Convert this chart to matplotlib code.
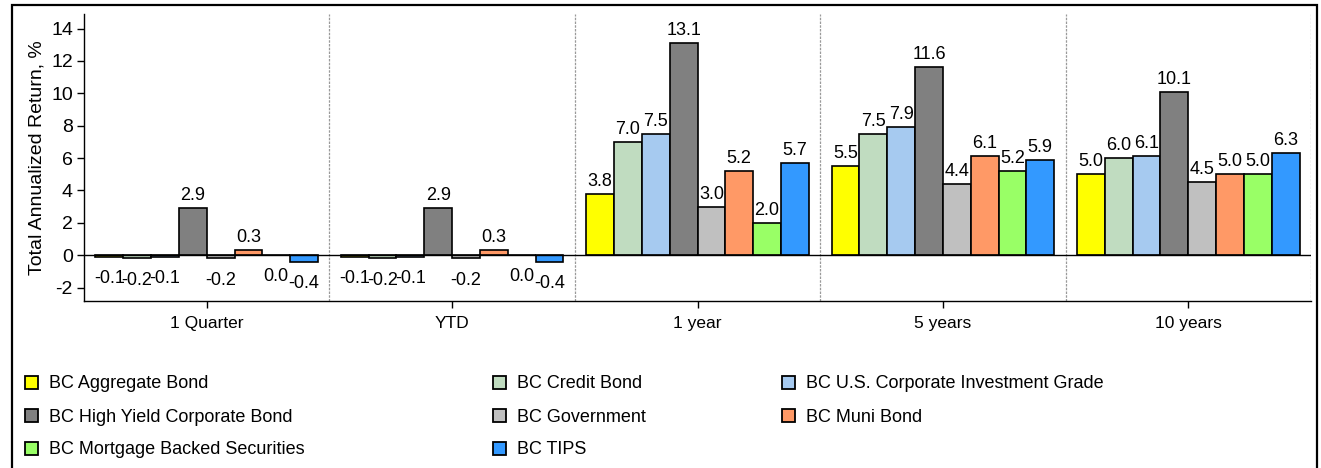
import matplotlib
matplotlib.use("Agg")
import matplotlib.pyplot as plt
from matplotlib.patches import Rectangle
import numpy as np

plt.rcParams['font.family'] = ['Liberation Sans', 'DejaVu Sans']

# Periods on the x axis
periods = ["1 Quarter", "YTD", "1 year", "5 years", "10 years"]

# Index names and colours
series = [
    "BC Aggregate Bond",
    "BC Credit Bond",
    "BC U.S. Corporate Investment Grade",
    "BC High Yield Corporate Bond",
    "BC Government",
    "BC Muni Bond",
    "BC Mortgage Backed Securities",
    "BC TIPS",
]
colors = ["#FFFF00", "#C0DCC0", "#A6CAF0", "#808080",
          "#C0C0C0", "#FF9966", "#99FF66", "#3399FF"]

# Total annualized returns (%) per index, one value per period
aggregate = [-0.1, -0.1, 3.8, 5.5, 5.0]
credit = [-0.2, -0.2, 7.0, 7.5, 6.0]
us_corp = [-0.1, -0.1, 7.5, 7.9, 6.1]
high_yield = [2.9, 2.9, 13.1, 11.6, 10.1]
government = [-0.2, -0.2, 3.0, 4.4, 4.5]
muni = [0.3, 0.3, 5.2, 6.1, 5.0]
mbs = [0.0, 0.0, 2.0, 5.2, 5.0]
tips = [-0.4, -0.4, 5.7, 5.9, 6.3]
values = [aggregate, credit, us_corp, high_yield, government, muni, mbs, tips]

yticks = [-2, 0, 2, 4, 6, 8, 10, 12, 14]

W, H = 1321, 468
fig = plt.figure(figsize=(W / 100, H / 100), dpi=100)
ax = fig.add_axes([84 / W, 1 - 300.5 / H, (1311 - 84) / W, (300.5 - 14) / H])

n = len(series)
group_w = 0.907
bw = group_w / n
x = np.arange(len(periods))

for j, (name, col, vals) in enumerate(zip(series, colors, values)):
    xpos = x + (j - (n - 1) / 2) * bw
    ax.bar(xpos, vals, width=bw, color=col, edgecolor="black",
           linewidth=1.2, zorder=3)
    for xp, v in zip(xpos, vals):
        if v > 0:
            ax.annotate(f"{v:.1f}", (xp, v), xytext=(0, 5.8),
                        textcoords="offset points", ha="center",
                        va="baseline", fontsize=13, zorder=5)
        else:
            ax.annotate(f"{v:.1f}", (xp, v), xytext=(0, -9.5),
                        textcoords="offset points", ha="center",
                        va="top", fontsize=13, zorder=5)

ax.set_xlim(-0.5, len(periods) - 0.5)
ax.set_ylim(-2.8, 14.9)
ax.axhline(0, color="black", linewidth=1.0, zorder=4)
for b in np.arange(len(periods)) + 0.5:
    ax.axvline(b, color="#9a9a9a", linewidth=0.9, linestyle=(0, (2, 1)), zorder=1)

ax.set_xticks(x)
ax.set_xticklabels(periods, fontsize=12.5)
ax.set_yticks(yticks)
ax.set_yticklabels([str(t) for t in yticks], fontsize=14)
ax.tick_params(axis="both", direction="out", length=5, width=1, color="black", pad=3)
ax.tick_params(axis="x", pad=6)
for s in ["top", "right"]:
    ax.spines[s].set_visible(False)
for s in ["left", "bottom"]:
    ax.spines[s].set_linewidth(1.0)
    ax.spines[s].set_color("black")

ax.set_ylabel("Total Annualized Return, %", fontsize=14, labelpad=4)

# Legend laid out row by row in three columns
col_x = [25, 493, 782]
row_y = [382, 415, 448]
sq = 13
for i, (name, col) in enumerate(zip(series, colors)):
    r, c = divmod(i, 3)
    x0 = col_x[c]
    yc = row_y[r]
    fig.patches.append(Rectangle((x0 / W, 1 - (yc + sq / 2) / H), sq / W, sq / H,
                                 transform=fig.transFigure, facecolor=col,
                                 edgecolor="black", linewidth=1.3))
    fig.text((x0 + sq + 11) / W, 1 - yc / H, name, fontsize=13,
             ha="left", va="center_baseline")

# Outer frame
fig.patches.append(Rectangle((12 / W, -0.05), (1317 - 12) / W, 1.05 - 5 / H,
                             transform=fig.transFigure, fill=False,
                             edgecolor="black", linewidth=1.6, clip_on=False))

fig.savefig("out.png", dpi=100)
